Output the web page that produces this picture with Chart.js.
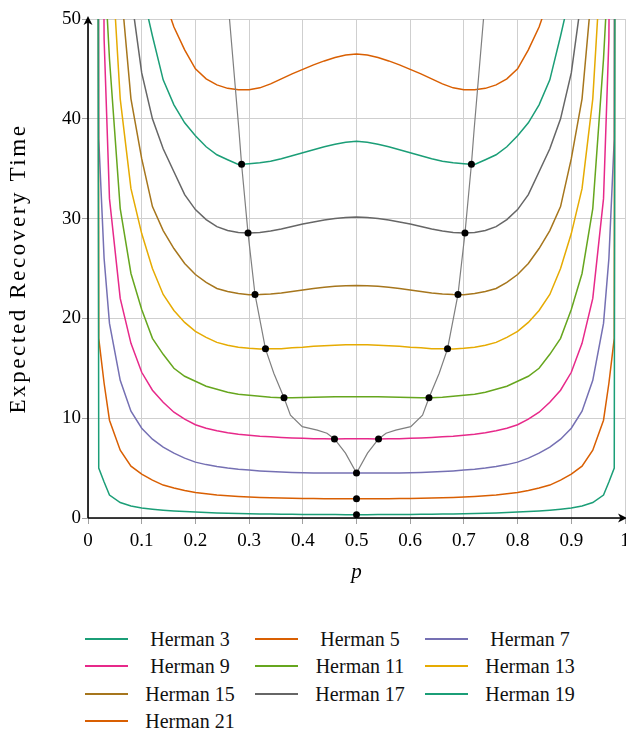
<!DOCTYPE html>
<html>
<head>
<meta charset="utf-8">
<script src="https://cdn.jsdelivr.net/npm/chart.js@4.4.1/dist/chart.umd.min.js"></script>
<style>
  body { margin: 0; background: #fff; font-family: 'Liberation Serif', serif; }
  #wrap { position: relative; width: 626px; height: 731px; overflow: hidden; }
  #chart { position: absolute; left: 0; top: 0; }
  #legend { position: absolute; left: 85px; top: 626px; width: 520px; display: grid;
            grid-template-columns: 170px 170px 170px; grid-auto-rows: 27.3px; }
  .item { position: relative; height: 27px; }
  .item .ln { position: absolute; left: 0; top: 12px; width: 43px; height: 2px; }
  .item .tx { position: absolute; left: 45px; width: 120px; top: 0; text-align: center;
              font-size: 20px; line-height: 26px; color: #111; }
</style>
</head>
<body>
<div id="wrap">
  <canvas id="chart" width="626" height="610"></canvas>
  <div id="legend"></div>
</div>
<script>
// sampled p values (shared by all Herman curves)
const pValues = [0.01, 0.02, 0.03, 0.04, 0.06, 0.08, 0.10, 0.12, 0.14, 0.16, 0.18, 0.20, 0.22,
  0.24, 0.26, 0.28, 0.30, 0.32, 0.34, 0.36, 0.38, 0.40, 0.42, 0.44, 0.46, 0.48, 0.50,
  0.52, 0.54, 0.56, 0.58, 0.60, 0.62, 0.64, 0.66, 0.68, 0.70, 0.72, 0.74, 0.76, 0.78,
  0.80, 0.82, 0.84, 0.86, 0.88, 0.90, 0.92, 0.94, 0.96, 0.97, 0.98, 0.99];

const herman3 = [400, 5.0, 3.6, 2.3, 1.55, 1.2, 1.0, 0.88, 0.78, 0.7, 0.64, 0.59, 0.55, 0.51, 0.48, 0.45, 0.43, 0.41, 0.39, 0.38, 0.37, 0.36, 0.35, 0.34, 0.34, 0.33,
  0.33, 0.33, 0.34, 0.34, 0.35, 0.36, 0.37, 0.38, 0.39, 0.41, 0.43, 0.45, 0.48, 0.51, 0.55, 0.59, 0.64, 0.7, 0.78, 0.88, 1.0, 1.2, 1.55, 2.3, 3.6, 5.0, 400];
const herman5 = [500, 18, 13.5, 9.8, 6.8, 5.2, 4.4, 3.8, 3.3, 3.0, 2.75, 2.55, 2.42, 2.3, 2.22, 2.15, 2.1, 2.05, 2.02, 2.0, 1.98, 1.96, 1.95, 1.94, 1.93, 1.92,
  1.92, 1.92, 1.93, 1.94, 1.95, 1.96, 1.98, 2.0, 2.02, 2.05, 2.1, 2.15, 2.22, 2.3, 2.42, 2.55, 2.75, 3.0, 3.3, 3.8, 4.4, 5.2, 6.8, 9.8, 13.5, 18, 500];
const herman7 = [700, 38, 26, 19.5, 13.8, 10.7, 9.0, 7.9, 7.1, 6.5, 6.0, 5.6, 5.35, 5.15, 5.0, 4.88, 4.8, 4.72, 4.66, 4.61, 4.57, 4.54, 4.52, 4.51, 4.5, 4.5,
  4.5, 4.5, 4.5, 4.51, 4.52, 4.54, 4.57, 4.61, 4.66, 4.72, 4.8, 4.88, 5.0, 5.15, 5.35, 5.6, 6.0, 6.5, 7.1, 7.9, 9.0, 10.7, 13.8, 19.5, 26, 38, 700];
const herman9 = [900, 130, 48, 32, 22, 17.5, 14.6, 12.8, 11.6, 10.6, 9.9, 9.35, 9.0, 8.75, 8.55, 8.4, 8.3, 8.2, 8.13, 8.07, 8.02, 7.98, 7.95, 7.93, 7.92, 7.93,
  7.94, 7.93, 7.92, 7.93, 7.95, 7.98, 8.02, 8.07, 8.13, 8.2, 8.3, 8.4, 8.55, 8.75, 9.0, 9.35, 9.9, 10.6, 11.6, 12.8, 14.6, 17.5, 22, 32, 48, 130, 900];
const herman11 = [1000, 300, 56, 46, 31, 24.5, 20.9, 18.0, 16.4, 15.0, 14.2, 13.7, 13.2, 12.9, 12.6, 12.4, 12.3, 12.2, 12.1, 12.05, 12.06, 12.08, 12.1, 12.12, 12.14, 12.15,
  12.15, 12.15, 12.14, 12.12, 12.1, 12.08, 12.06, 12.05, 12.1, 12.2, 12.3, 12.4, 12.6, 12.9, 13.2, 13.7, 14.2, 15.0, 16.4, 18.0, 20.9, 24.5, 31, 46, 56, 300, 1000];
const herman13 = [1200, 600, 150, 60, 42, 33, 28.5, 25.0, 22.4, 20.8, 19.6, 18.7, 18.1, 17.6, 17.3, 17.1, 17.0, 16.93, 16.95, 16.97, 17.05, 17.1, 17.2, 17.25, 17.3, 17.35,
  17.35, 17.35, 17.3, 17.25, 17.2, 17.1, 17.05, 16.97, 16.95, 16.93, 17.0, 17.1, 17.3, 17.6, 18.1, 18.7, 19.6, 20.8, 22.4, 25.0, 28.5, 33, 42, 60, 150, 600, 1200];
const herman15 = [1500, 800, 250, 100, 54, 42, 36.0, 31.2, 28.8, 27.0, 25.5, 24.4, 23.6, 23.0, 22.7, 22.5, 22.38, 22.4, 22.45, 22.55, 22.7, 22.85, 23.0, 23.12, 23.22, 23.28,
  23.3, 23.28, 23.22, 23.12, 23.0, 22.85, 22.7, 22.55, 22.45, 22.4, 22.38, 22.5, 22.7, 23.0, 23.6, 24.4, 25.5, 27.0, 28.8, 31.2, 36.0, 42, 54, 100, 250, 800, 1500];
const herman17 = [2000, 1000, 300, 150, 80, 52.5, 44.6, 40.0, 37.0, 34.7, 32.4, 30.9, 29.9, 29.2, 28.8, 28.6, 28.55, 28.6, 28.75, 28.95, 29.2, 29.45, 29.65, 29.85, 30.0, 30.1,
  30.15, 30.1, 30.0, 29.85, 29.65, 29.45, 29.2, 28.95, 28.75, 28.6, 28.55, 28.6, 28.8, 29.2, 29.9, 30.9, 32.4, 34.7, 37.0, 40.0, 44.6, 52.5, 80, 150, 300, 1000, 2000];
const herman19 = [3000, 1500, 600, 300, 140, 80, 53, 48.3, 43.9, 41.4, 39.6, 38.3, 37.2, 36.4, 35.9, 35.42, 35.5, 35.6, 35.75, 36.0, 36.3, 36.6, 36.9, 37.2, 37.45, 37.65,
  37.75, 37.65, 37.45, 37.2, 36.9, 36.6, 36.3, 36.0, 35.75, 35.6, 35.5, 35.42, 35.9, 36.4, 37.2, 38.3, 39.6, 41.4, 43.9, 48.3, 53, 80, 140, 300, 600, 1500, 3000];
const herman21 = [5000, 2500, 1000, 500, 200, 100, 68, 57, 52.3, 49.2, 46.9, 45.0, 44.0, 43.4, 43.05, 42.9, 42.9, 43.1, 43.5, 44.0, 44.5, 44.95, 45.4, 45.8, 46.15, 46.4,
  46.5, 46.4, 46.15, 45.8, 45.4, 44.95, 44.5, 44.0, 43.5, 43.1, 42.9, 42.9, 43.05, 43.4, 44.0, 45.0, 46.9, 49.2, 52.3, 57, 68, 100, 200, 500, 1000, 2500, 5000];

const seriesLabels = ['Herman 3', 'Herman 5', 'Herman 7', 'Herman 9', 'Herman 11',
  'Herman 13', 'Herman 15', 'Herman 17', 'Herman 19', 'Herman 21'];
const seriesValues = [herman3, herman5, herman7, herman9, herman11,
  herman13, herman15, herman17, herman19, herman21];
const seriesColors = ['#1b9e77', '#d95f02', '#7570b3', '#e7298a', '#66a61e',
  '#e6ab02', '#a6761d', '#666666', '#1b9e77', '#d95f02'];

// locus of the minima (grey line)
const minP = [0.248, 0.2635, 0.281, 0.286, 0.298, 0.311, 0.3305, 0.346, 0.365, 0.377, 0.399, 0.427, 0.445, 0.459, 0.4795, 0.5,
  0.5205, 0.541, 0.555, 0.573, 0.601, 0.623, 0.635, 0.654, 0.6695, 0.689, 0.702, 0.714, 0.719, 0.7365, 0.752];
const minY = [60, 50, 38.9, 35.45, 28.55, 22.4, 16.95, 14.5, 12.05, 10.3, 9.15, 8.8, 8.5, 7.92, 6.5, 4.5,
  6.5, 7.92, 8.5, 8.8, 9.15, 10.3, 12.05, 14.5, 16.95, 22.4, 28.55, 35.45, 38.9, 50, 60];

// minimum points (black dots)
const dotP = [0.5, 0.5, 0.5, 0.459, 0.541, 0.365, 0.635, 0.3305, 0.6695, 0.311, 0.689, 0.298, 0.702, 0.286, 0.714];
const dotY = [0.33, 1.92, 4.5, 7.92, 7.92, 12.05, 12.05, 16.95, 16.95, 22.4, 22.4, 28.55, 28.55, 35.45, 35.45];

const xTickLabels = ['0', '0.1', '0.2', '0.3', '0.4', '0.5', '0.6', '0.7', '0.8', '0.9', '1'];

const datasets = seriesValues.map((vals, i) => ({
  label: seriesLabels[i],
  data: vals.map((v, j) => ({ x: pValues[j], y: v })),
  borderColor: seriesColors[i],
  borderWidth: 1.5,
  pointRadius: 0,
  tension: 0,
  order: 2
}));

datasets.push({
  label: 'minima',
  data: minP.map((p, j) => ({ x: p, y: minY[j] })),
  borderColor: '#7f7f7f',
  borderWidth: 1.2,
  pointRadius: 0,
  tension: 0,
  order: 1
});

datasets.push({
  label: 'dots',
  data: dotP.map((p, j) => ({ x: p, y: dotY[j] })),
  showLine: false,
  pointRadius: 3.5,
  pointBackgroundColor: '#000',
  pointBorderWidth: 0,
  order: 0
});

const tickFont = { family: 'Liberation Serif', size: 19 };

// black axis lines with arrow tips
const axisArrows = {
  id: 'axisArrows',
  afterLayout(chart) {
    // a little letter spacing on the y title, closer to the TeX look
    const s = chart.scales.y;
    if (!s._spaced) {
      const orig = s.drawTitle.bind(s);
      s.drawTitle = function () {
        this.ctx.save();
        this.ctx.letterSpacing = '2.6px';
        orig();
        this.ctx.restore();
      };
      s._spaced = true;
    }
  },
  afterDatasetsDraw(chart) {
    const { ctx, chartArea: a } = chart;
    ctx.save();
    ctx.strokeStyle = '#000';
    ctx.fillStyle = '#000';
    ctx.lineWidth = 1.6;
    ctx.beginPath();
    ctx.moveTo(a.left, a.bottom);
    ctx.lineTo(622, a.bottom);
    ctx.moveTo(a.left, a.bottom);
    ctx.lineTo(a.left, 21);
    ctx.stroke();
    ctx.beginPath();
    ctx.moveTo(627, a.bottom);
    ctx.lineTo(618, a.bottom - 4.5);
    ctx.lineTo(620.5, a.bottom);
    ctx.lineTo(618, a.bottom + 4.5);
    ctx.closePath();
    ctx.fill();
    ctx.beginPath();
    ctx.moveTo(a.left, 16);
    ctx.lineTo(a.left - 4.5, 25);
    ctx.lineTo(a.left, 22.5);
    ctx.lineTo(a.left + 4.5, 25);
    ctx.closePath();
    ctx.fill();
    ctx.restore();
  }
};

new Chart('chart', {
  type: 'line',
  data: { datasets },
  plugins: [axisArrows],
  options: {
    responsive: false,
    animation: false,
    layout: { autoPadding: false, padding: { top: 19, right: 1, bottom: 0, left: 0 } },
    plugins: { legend: { display: false }, tooltip: { enabled: false } },
    scales: {
      x: {
        type: 'linear',
        min: 0,
        max: 1,
        ticks: {
          stepSize: 0.1,
          color: '#000',
          font: tickFont,
          padding: 6,
          maxRotation: 0,
          autoSkip: false,
          callback: (v, i) => xTickLabels[i]
        },
        grid: { color: '#cfcfcf', tickColor: '#a0a0a0', tickLength: 6, lineWidth: 1 },
        border: { display: false },
        title: { display: true, text: 'p', color: '#000', padding: { top: 0, bottom: 25 },
                 font: { family: 'Liberation Serif', size: 21, style: 'italic' } },
        afterFit: s => { s.height = 92; s.paddingLeft = 0; s.paddingRight = 0; }
      },
      y: {
        min: 0,
        max: 50,
        ticks: { stepSize: 10, color: '#000', font: tickFont, padding: 1 },
        grid: { color: '#cfcfcf', tickColor: '#a0a0a0', tickLength: 6, lineWidth: 1 },
        border: { display: false },
        title: { display: true, text: 'Expected Recovery Time', color: '#000', padding: { top: 5, bottom: 0 },
                 font: { family: 'Liberation Serif', size: 23 } },
        afterFit: s => { s.width = 88; s.paddingTop = 0; s.paddingBottom = 0; }
      }
    }
  }
});

// legend below the plot, three columns
const legend = document.getElementById('legend');
seriesLabels.forEach((lab, i) => {
  const item = document.createElement('div');
  item.className = 'item';
  item.innerHTML = '<div class="ln" style="background:' + seriesColors[i] + '"></div><div class="tx">' + lab + '</div>';
  legend.appendChild(item);
});
</script>
</body>
</html>
